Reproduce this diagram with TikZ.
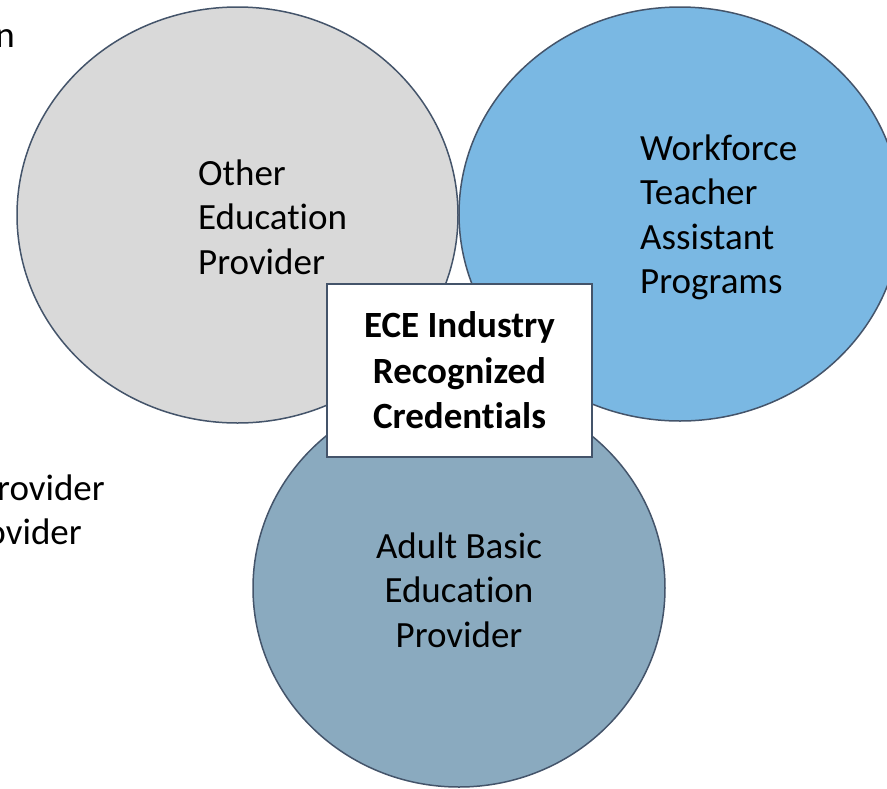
\documentclass[tikz,border=0pt]{standalone}
\usepackage{fontspec}
\setmainfont[Ligatures=NoCommon]{Carlito}
\usetikzlibrary{shapes.geometric}
\definecolor{edge}{HTML}{44546A}
\definecolor{grayfill}{HTML}{D9D9D9}
\definecolor{bluefill}{HTML}{7AB8E3}
\definecolor{slatefill}{HTML}{8AAABF}
\tikzset{
  blob/.style={ellipse, draw=edge, line width=1.5pt, inner sep=0pt},
  lbl/.style={inner sep=0pt, font=\fontsize{37}{44.5}\selectfont},
  credbox/.style={rectangle, draw=edge, line width=1.5pt, fill=white, inner sep=0pt,
    minimum width=265pt, minimum height=173pt, align=center,
    font=\fontsize{37}{45.5}\selectfont\bfseries}
}
\begin{document}
\begin{tikzpicture}[x=1pt, y=-1pt]
\useasboundingbox (0,0) rectangle (887,788);
\begin{scope}
\clip (0,0) rectangle (887,788);
\node[blob, fill=grayfill, minimum width=441pt, minimum height=416pt] (left) at (237.5,215) {};
\node[blob, fill=bluefill, minimum width=442pt, minimum height=414pt] (right) at (680,214) {};
\node[blob, fill=slatefill, minimum width=412pt, minimum height=398pt] (bottom) at (459,588) {};
\node[lbl, anchor=base east] (cutn) at (15,47) {n};
\node[lbl, anchor=base east] (cutp1) at (105,500) {rovider};
\node[lbl, anchor=base east] (cutp2) at (82,544) {ovider};
\node[lbl, anchor=base west, align=left] (lefttext) at (198,274) {Other\\Education\\Provider};
\node[lbl, anchor=base west, align=left] (righttext) at (640,293.5) {Workforce\\Teacher\\Assistant\\Programs};
\node[lbl, anchor=base, align=center] (bottomtext) at (459,647) {Adult Basic\\Education\\Provider};
\node[credbox] (cred) at (459.5,370.5) {ECE Industry\\Recognized\\Credentials};
\end{scope}
\end{tikzpicture}
\end{document}
